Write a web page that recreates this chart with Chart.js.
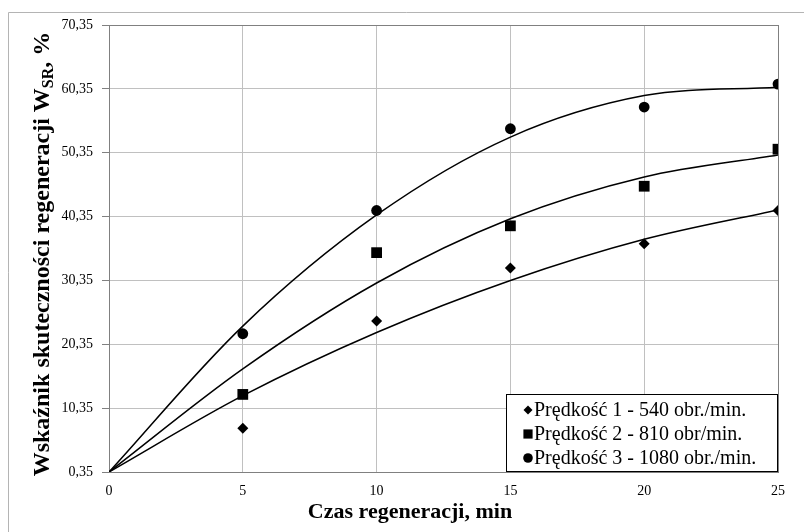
<!DOCTYPE html>
<html>
<head>
<meta charset="utf-8">
<script src="https://cdn.jsdelivr.net/npm/chart.js@4.4.0/dist/chart.umd.min.js"></script>
<style>
  body { margin: 0; background: #fff; }
  canvas { display: block; }
</style>
</head>
<body>
<canvas id="myChart" width="804" height="532"></canvas>
<script>
const times = [5, 10, 15, 20, 25];
const speed1 = [7.2, 24.0, 32.3, 36.1, 41.3];
const speed2 = [12.5, 34.7, 38.9, 45.1, 50.9];
const speed3 = [22.0, 41.3, 54.1, 57.5, 61.1];

// trend curves
const trendTimes = [0, 5, 10, 15, 20, 25];
const trend1 = [0.35, 12.3, 22.2, 30.35, 36.8, 41.4];
const trend2 = [0.35, 16.5, 29.95, 40.0, 46.55, 50.0];
const trend3 = [0.35, 23.2, 40.6, 52.8, 59.3, 60.6];

const seriesLabels = ['Prędkość 1 - 540 obr./min.', 'Prędkość 2 - 810 obr/min.', 'Prędkość 3 - 1080 obr./min.'];
const markerStyles = ['rectRot', 'rect', 'circle'];
const xTicks = [0, 5, 10, 15, 20, 25];
const yTicks = [0.35, 10.35, 20.35, 30.35, 40.35, 50.35, 60.35, 70.35];
const xTitle = 'Czas regeneracji, min';
const yTitleMain = 'Wskaźnik skuteczności regeneracji W';
const yTitleSub = 'SR';
const yTitleEnd = ', %';

const serif = "'Liberation Serif', 'Times New Roman', serif";
const gridColor = '#c0c0c0';
const axisColor = '#808080';

function toPoints(xs, ys) {
  return xs.map((x, i) => ({ x: x, y: ys[i] }));
}

function drawMarker(ctx, style, x, y, r) {
  ctx.beginPath();
  if (style === 'rectRot') {
    ctx.moveTo(x - r, y);
    ctx.lineTo(x, y - r);
    ctx.lineTo(x + r, y);
    ctx.lineTo(x, y + r);
    ctx.closePath();
  } else if (style === 'rect') {
    const s = r * Math.SQRT1_2;
    ctx.rect(x - s, y - s, 2 * s, 2 * s);
  } else {
    ctx.arc(x, y, r, 0, Math.PI * 2);
  }
  ctx.fill();
}

const framePlugin = {
  id: 'frame',
  beforeDraw(chart) {
    const ctx = chart.ctx;
    ctx.save();
    ctx.fillStyle = '#fff';
    ctx.fillRect(0, 0, chart.width, chart.height);
    ctx.strokeStyle = '#b4b4b4';
    ctx.lineWidth = 1;
    ctx.beginPath();
    ctx.moveTo(8.5, chart.height);
    ctx.lineTo(8.5, 12.5);
    ctx.lineTo(chart.width, 12.5);
    ctx.stroke();
    ctx.restore();
  }
};

const titlesPlugin = {
  id: 'titles',
  afterDraw(chart) {
    const ctx = chart.ctx;
    ctx.save();
    ctx.fillStyle = '#000';

    // x axis title
    ctx.font = 'bold 22px ' + serif;
    ctx.textAlign = 'center';
    ctx.textBaseline = 'middle';
    ctx.fillText(xTitle, 410, 512);

    // y axis title with subscript
    const mainFont = 'bold 24px ' + serif;
    const subFont = 'bold 16px ' + serif;
    ctx.font = mainFont;
    const w1 = ctx.measureText(yTitleMain).width;
    const w3 = ctx.measureText(yTitleEnd).width;
    ctx.font = subFont;
    const w2 = ctx.measureText(yTitleSub).width;
    const total = w1 + w2 + w3;
    ctx.translate(49, 254);
    ctx.rotate(-Math.PI / 2);
    ctx.textAlign = 'left';
    ctx.textBaseline = 'alphabetic';
    let x = -total / 2;
    ctx.font = mainFont;
    ctx.fillText(yTitleMain, x, 0);
    x += w1;
    ctx.font = subFont;
    ctx.fillText(yTitleSub, x, 4);
    x += w2;
    ctx.font = mainFont;
    ctx.fillText(yTitleEnd, x, 0);
    ctx.restore();
  }
};

const legendPlugin = {
  id: 'boxLegend',
  afterDraw(chart) {
    const ctx = chart.ctx;
    ctx.save();
    ctx.fillStyle = '#fff';
    ctx.fillRect(506, 394, 271, 77);
    ctx.strokeStyle = '#000';
    ctx.lineWidth = 1;
    ctx.strokeRect(506.5, 394.5, 271, 77);
    const sizes = [4.5, 6.5, 4.8];
    ctx.font = '20px ' + serif;
    ctx.textAlign = 'left';
    ctx.textBaseline = 'middle';
    seriesLabels.forEach((label, i) => {
      const y = 410 + i * 24;
      ctx.fillStyle = '#000';
      drawMarker(ctx, markerStyles[i], 528, y, sizes[i]);
      ctx.fillText(label, 534, y + 1);
    });
    ctx.restore();
  }
};

const pointSets = [speed1, speed2, speed3];
const trendSets = [trend1, trend2, trend3];
const pointRadii = [5.5, 7.6, 5.4];

const datasets = [];
pointSets.forEach((vals, i) => {
  datasets.push({
    label: seriesLabels[i],
    data: toPoints(times, vals),
    pointStyle: markerStyles[i],
    pointRadius: pointRadii[i],
    pointBackgroundColor: '#000',
    pointBorderColor: '#000',
    pointBorderWidth: 0,
    showLine: false,
    order: 1
  });
});
trendSets.forEach((vals) => {
  datasets.push({
    label: 'trend',
    data: toPoints(trendTimes, vals),
    showLine: true,
    pointRadius: 0,
    borderColor: '#000',
    borderWidth: 1.5,
    tension: 0.33,
    fill: false,
    order: 2
  });
});

const ctx = document.getElementById('myChart');
new Chart(ctx, {
  type: 'scatter',
  data: { datasets: datasets },
  plugins: [framePlugin, titlesPlugin, legendPlugin],
  options: {
    responsive: false,
    animation: false,
    events: [],
    layout: { padding: { left: 0, top: 25, right: 26, bottom: 0 } },
    plugins: {
      legend: { display: false },
      tooltip: { enabled: false }
    },
    scales: {
      x: {
        type: 'linear',
        min: 0,
        max: 25,
        afterBuildTicks: (scale) => { scale.ticks = xTicks.map(v => ({ value: v })); },
        afterFit: (scale) => { scale.height = 60; },
        grid: {
          drawTicks: false,
          color: (c) => (c.index === xTicks.length - 1 ? axisColor : gridColor),
          lineWidth: 1
        },
        border: { display: true, color: axisColor, width: 1 },
        ticks: {
          padding: 11,
          color: '#000',
          font: { family: serif, size: 14 },
          maxRotation: 0,
          callback: (v) => String(v)
        }
      },
      y: {
        type: 'linear',
        min: 0.35,
        max: 70.35,
        afterBuildTicks: (scale) => { scale.ticks = yTicks.map(v => ({ value: v })); },
        afterFit: (scale) => { scale.width = 109; },
        grid: {
          drawTicks: true,
          tickLength: 7,
          tickColor: axisColor,
          color: (c) => (c.index === yTicks.length - 1 ? axisColor : gridColor),
          lineWidth: 1
        },
        border: { display: true, color: axisColor, width: 1 },
        ticks: {
          padding: 9,
          color: '#000',
          font: { family: serif, size: 14 },
          callback: (v) => v.toFixed(2).replace('.', ',')
        }
      }
    }
  }
});
</script>
</body>
</html>
